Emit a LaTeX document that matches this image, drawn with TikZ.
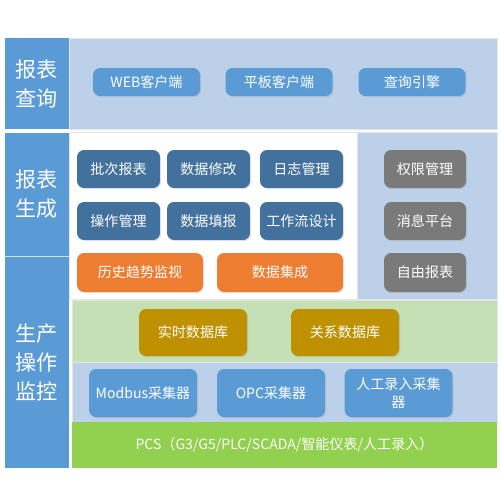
\documentclass[tikz,border=0pt]{standalone}
\usepackage{fontspec}
\setmainfont{Noto Sans CJK SC}
\usetikzlibrary{positioning,shadows}

\definecolor{colblue}{HTML}{5B9BD5}
\definecolor{panblue}{HTML}{BDD0EA}
\definecolor{darkblue}{HTML}{41719C}
\definecolor{btnorange}{HTML}{ED7D31}
\definecolor{btngrey}{HTML}{7A7A7A}
\definecolor{btngold}{HTML}{BF9000}
\definecolor{pangreen}{HTML}{C5E0B4}
\definecolor{bargreen}{HTML}{92D050}

\begin{document}
\begin{tikzpicture}[
  x=0.02cm, y=-0.02cm,
  font=\fontsize{8}{10}\selectfont,
  btn/.style={fill=#1, text=white, rounded corners=4pt, align=center, inner sep=1pt,
              drop shadow={opacity=0.25, shadow xshift=0.6pt, shadow yshift=-0.6pt}},
  side/.style={fill=colblue, text=white, align=center, inner sep=0pt,
               font=\fontsize{12}{16.5}\selectfont},
  panel/.style={fill=#1, draw=gray!20, line width=0.4pt},
]
\useasboundingbox (0,0) rectangle (500,500);

% ---- panels ----
\fill[panel=panblue] (69,38) rectangle (497,129);
\fill[panel=white] (69,132) rectangle (357,299);
\fill[panel=panblue] (357,132) rectangle (497,299);
\fill[panel=pangreen] (72,300) rectangle (497,362);
\fill[panel=panblue] (72,362) rectangle (497,422);

% ---- left column ----
\node[side, minimum width=1.28cm, minimum height=1.82cm] (query) at (37,83.5) {报表\\查询};
\node[side, minimum width=1.28cm, minimum height=2.48cm] (gen) at (37,194.5) {报表\\生成};
\node[side, minimum width=1.28cm, minimum height=4.22cm] (ops) at (37,362.5) {生产\\操作\\监控};
\draw[white!70!colblue, line width=0.6pt] (gen.south west) -- (gen.south east);

% ---- report query ----
\node[btn=colblue, minimum width=2.14cm, minimum height=0.56cm] (web) at (146.5,82) {WEB客户端};
\node[btn=colblue, minimum width=2.14cm, minimum height=0.56cm] (pad) at (279,82) {平板客户端};
\node[btn=colblue, minimum width=2.14cm, minimum height=0.56cm] (engine) at (412,82) {查询引擎};

% ---- report generation ----
\node[btn=darkblue, minimum width=1.66cm, minimum height=0.76cm] (batch) at (118.5,169) {批次报表};
\node[btn=darkblue, minimum width=1.66cm, minimum height=0.76cm] (modify) at (208.5,169) {数据修改};
\node[btn=darkblue, minimum width=1.66cm, minimum height=0.76cm] (logm) at (301.5,169) {日志管理};
\node[btn=darkblue, minimum width=1.66cm, minimum height=0.76cm] (opm) at (118.5,221) {操作管理};
\node[btn=darkblue, minimum width=1.66cm, minimum height=0.76cm] (fill) at (208.5,221) {数据填报};
\node[btn=darkblue, minimum width=1.66cm, minimum height=0.76cm] (flow) at (301.5,221) {工作流设计};
\node[btn=btnorange, minimum width=2.52cm, minimum height=0.78cm] (trend) at (140,272.5) {历史趋势监视};
\node[btn=btnorange, minimum width=2.52cm, minimum height=0.78cm] (integ) at (280,272.5) {数据集成};

\node[btn=btngrey, minimum width=1.64cm, minimum height=0.76cm] (perm) at (425,169) {权限管理};
\node[btn=btngrey, minimum width=1.64cm, minimum height=0.76cm] (msg) at (425,221) {消息平台};
\node[btn=btngrey, minimum width=1.64cm, minimum height=0.78cm] (free) at (425,272.5) {自由报表};

% ---- operation monitoring ----
\node[btn=btngold, minimum width=2.16cm, minimum height=0.94cm] (rtdb) at (193,332.5) {实时数据库};
\node[btn=btngold, minimum width=2.16cm, minimum height=0.94cm] (reldb) at (345,332.5) {关系数据库};

\node[btn=colblue, minimum width=2.16cm, minimum height=0.96cm] (modbus) at (143,393) {Modbus采集器};
\node[btn=colblue, minimum width=2.16cm, minimum height=0.96cm] (opc) at (271,393) {OPC采集器};
\node[btn=colblue, minimum width=2.16cm, minimum height=0.96cm] (manual) at (398.5,393) {人工录入采集\\器};

\node[fill=bargreen, text=white, minimum width=8.5cm, minimum height=0.92cm, inner sep=0pt] (pcs)
  at (284.5,445) {PCS（G3/G5/PLC/SCADA/智能仪表/人工录入）};
\end{tikzpicture}
\end{document}
